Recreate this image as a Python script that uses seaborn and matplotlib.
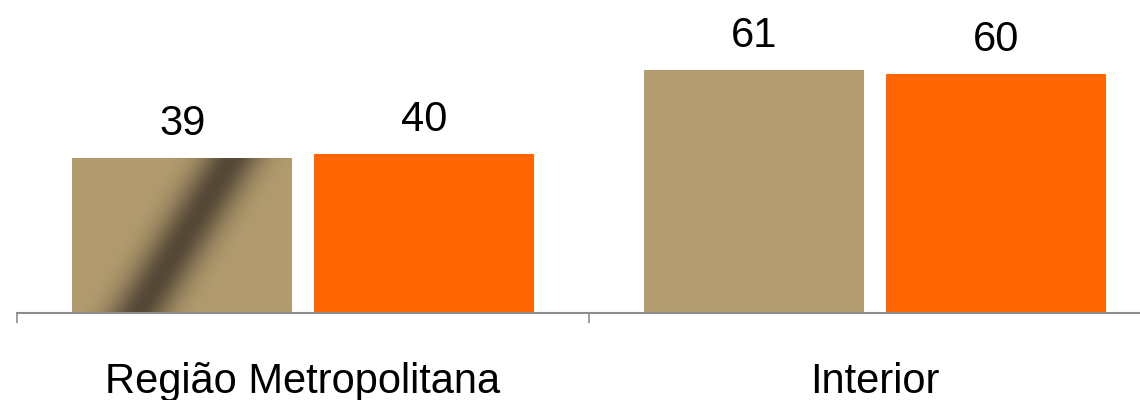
import numpy as np
import pandas as pd
import matplotlib
matplotlib.use("Agg")
import matplotlib.pyplot as plt
import seaborn as sns
from matplotlib.colors import to_rgb

# -----------------------------
# Data
# -----------------------------
regioes = ["Região Metropolitana", "Interior"]
serie_a = [39, 61]
serie_b = [40, 60]
series = ["Série A", "Série B"]
cores = ["#B39C6F", "#FF6600"]

df = pd.DataFrame({
    "regiao": regioes * 2,
    "valor": serie_a + serie_b,
    "serie": [series[0]] * len(regioes) + [series[1]] * len(regioes),
})

# -----------------------------
# Plot
# -----------------------------
sns.set_theme(style="white")
plt.rcParams["font.family"] = ["Liberation Sans", "DejaVu Sans"]

fig = plt.figure(figsize=(11.4, 4), dpi=100)
ax = fig.add_axes([17 / 1140, 87 / 400, 1144 / 1140, 313 / 400])

sns.barplot(data=df, x="regiao", y="valor", hue="serie", palette=cores,
            width=0.845, gap=0.09, saturation=1, linewidth=0,
            legend=False, ax=ax)

# value labels
for cont in ax.containers:
    ax.bar_label(cont, fmt="%.0f", padding=10, fontsize=30, color="black")

# dark diagonal streak on the first bar (gradient fill in the original)
bar = ax.containers[0][0]
x0, w, h = bar.get_x(), bar.get_width(), bar.get_height()
v, u = np.mgrid[0:1:200j, 0:1:300j]
centro = 0.30 + 0.43 * v
forca = np.exp(-((u - centro) / 0.14) ** 2)
base = np.array(to_rgb(cores[0]))
escuro = np.array(to_rgb("#544836"))
img = base + (escuro - base) * forca[..., None]
im = ax.imshow(img, extent=[x0, x0 + w, 0, h], origin="lower", aspect="auto",
               interpolation="bilinear", zorder=bar.get_zorder() + 0.1)
im.set_clip_path(bar)

ax.set_xlim(-0.5, 1.5)
ax.set_ylim(0, 78.6)
ax.set_xlabel("")
ax.set_ylabel("")
ax.set_yticks([])

sns.despine(ax=ax, left=True)
ax.spines["bottom"].set_color("#8c8c8c")
ax.spines["bottom"].set_linewidth(1.5)

ax.set_xticks([-0.5, 0.5, 1.5], minor=True)
ax.tick_params(axis="x", which="minor", bottom=True, length=7.5, width=1.2,
               color="#8c8c8c", direction="out")
ax.tick_params(axis="x", which="major", bottom=False, length=0, pad=35,
               labelsize=30, labelcolor="black")

fig.savefig("out.png", dpi=100)
